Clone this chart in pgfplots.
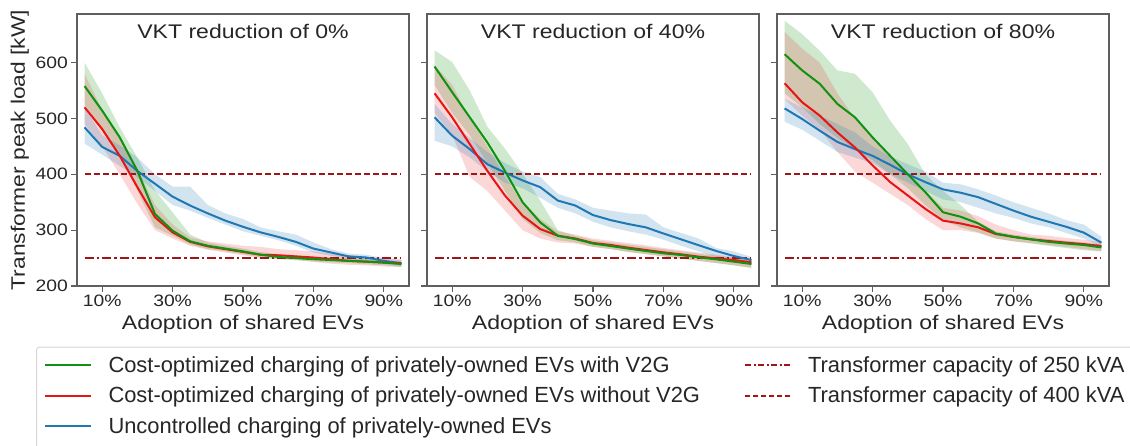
\documentclass[border=0pt]{standalone}
\usepackage{fontspec}
\setmainfont{Liberation Sans}[FakeStretch=1.17]
\newfontfamily\legfont{Liberation Sans}
\usepackage{pgfplots}
\usepackage{pgfplotstable}
\pgfplotsset{compat=1.18}
\usepgfplotslibrary{fillbetween}

\definecolor{cgreen}{RGB}{16,146,16}
\definecolor{cred}{RGB}{232,20,20}
\definecolor{cblue}{RGB}{31,119,180}
\definecolor{capcol}{RGB}{160,22,22}
\definecolor{axgray}{RGB}{95,95,95}
\definecolor{txtgray}{RGB}{38,38,38}
\definecolor{leggray}{RGB}{215,215,215}

\pgfplotstableread{
x  g     gl   gu   r     rl   ru   b     bl   bu
5  558   525  600  520   490  580  484   455  520
10 514   480  545  481   450  515  449   435  470
15 466   436  484  433   400  470  433   415  452
20 406   371  430  377   347  410  406   395  430
25 329   305  371  323   300  345  383   370  400
30 299   290  332  296   285  310  360   345  378
35 280   274  292  279   272  287  344   335  378
40 272   266  278  271   265  280  330   322  345
45 267   262  272  266   260  276  317   310  330
50 262   257  267  261   255  272  306   298  320
55 256   251  261  256   250  270  296   290  305
60 252   248  257  255   249  266  288   282  298
65 250   246  255  253   247  264  279   272  292
70 248   244  252  251   243  262  267   260  278
75 246.5 242  251  248   240  258  260   254  266
80 245   241  250  245   238  255  253   248  258
85 243.6 239  248  243.6 237  252  251   245  256
90 242   237  246  242   235  250  245   240  250
95 239.4 234  244  240.6 234  248  240.6 236  246
}\tabA

\pgfplotstableread{
x  g     gl   gu   r     rl   ru   b     bl   bu
5  593   560  622  545   510  595  502   460  526
10 547   510  601  502   470  560  469   450  490
15 502   470  550  454   395  500  445   430  465
20 457   420  485  406   370  450  418   405  440
25 406   370  446  362   335  395  403   385  420
30 350   320  401  326   300  350  389   375  405
35 314   295  353  302   285  320  377   358  395
40 290   282  300  290   278  298  353   340  365
45 284   278  290  285   276  292  344   330  355
50 276   270  282  277   270  285  327   315  340
55 271.6 266  278  273.4 266  281  318   305  335
60 267   261  274  268.6 261  277  311   298  330
65 262.7 257  270  264.5 257  273  305   292  328
70 258.5 253  266  260.3 253  268  294   283  305
75 255.5 249  262  256.7 249  264  283.5 272  295
80 251.3 245  258  252.5 245  260  273   262  285
85 247.7 241  254  249.5 241  256  262.7 252  268
90 243.6 237  250  246.5 237  252  253.7 246  262
95 239.4 232  246  242.4 233  248  246.5 242  252
}\tabB

\pgfplotstableread{
x  g     gl   gu   r     rl   ru   b     bl   bu
5  615   545  675  563   535  655  518   494  535
10 586   520  651  529   505  625  499   480  520
15 562   490  621  505   480  600  478   460  505
20 526   465  586  475   440  545  458   440  490
25 502   445  580  448   405  500  445   430  475
30 466   425  547  416   385  465  433   420  450
35 433   400  496  386   365  430  417   400  432
40 400   375  454  362   345  400  400   385  418
45 368   345  400  338   320  370  386   370  405
50 332   318  370  317   300  340  373   355  385
55 324   305  345  312   300  335  367   350  382
60 312   296  315  305   295  325  359   340  373
65 294   285  298  293   285  310  347   330  362
70 288   280  292  288   280  300  335   322  350
75 283.5 276  288  283.5 277  292  324   312  340
80 279   272  284  280.6 273  290  315   305  330
85 276   268  281  277.6 270  286  306   295  318
90 273.4 264  278  275   266  283  295.5 285  310
95 269   262  274  271.6 262  278  277.6 270  288
}\tabC

\pgfplotsset{
  panel/.style={
    scale only axis, width=332pt, height=272pt,
    xmin=2.85, xmax=97.15, ymin=200, ymax=687,
    xtick={10,30,50,70,90},
    xticklabels={10\%,30\%,50\%,70\%,90\%},
    ytick={200,300,400,500,600},
    tick align=outside, tick pos=left, major tick length=6pt,
    axis line style={draw=axgray, line width=1.2pt},
    every tick/.style={draw=axgray, line width=1.2pt},
    /pgf/number format/assume math mode=true,
    tick label style={font=\fontsize{16.5}{18}\selectfont, text=txtgray},
    xticklabel style={anchor=north, inner sep=0pt, yshift=-3pt},
    yticklabel style={anchor=east, inner sep=0pt, xshift=-3pt},
    xlabel={Adoption of shared EVs},
    xlabel style={font=\fontsize{19.7}{22}\selectfont, text=txtgray, at={(axis description cs:0.5,0)}, anchor=north, inner sep=0pt, yshift=-29pt},
    title style={font=\fontsize{19.7}{22}\selectfont, text=txtgray, at={(axis description cs:0.5,1)}, anchor=north, inner sep=0pt, yshift=-16pt},
  },
}

\newcommand{\drawpanel}[1]{%
  \addplot[draw=none, name path=gu, forget plot] table[x=x,y=gu]{#1};
  \addplot[draw=none, name path=gl, forget plot] table[x=x,y=gl]{#1};
  \addplot[fill=cgreen, fill opacity=0.2, draw=none, forget plot] fill between[of=gu and gl];
  \addplot[draw=none, name path=ru, forget plot] table[x=x,y=ru]{#1};
  \addplot[draw=none, name path=rl, forget plot] table[x=x,y=rl]{#1};
  \addplot[fill=cred, fill opacity=0.17, draw=none, forget plot] fill between[of=ru and rl];
  \addplot[draw=none, name path=bu, forget plot] table[x=x,y=bu]{#1};
  \addplot[draw=none, name path=bl, forget plot] table[x=x,y=bl]{#1};
  \addplot[fill=cblue, fill opacity=0.2, draw=none, forget plot] fill between[of=bu and bl];
  \addplot[line width=2pt, capcol, dash pattern=on 6pt off 3pt, forget plot] coordinates {(5,400) (95,400)};
  \addplot[line width=2pt, capcol, dash pattern=on 9pt off 3pt on 2.5pt off 3pt, forget plot] coordinates {(5,250) (95,250)};
  \addplot[line width=2pt, cblue, forget plot] table[x=x,y=b]{#1};
  \addplot[line width=2pt, cred, forget plot] table[x=x,y=r]{#1};
  \addplot[line width=2pt, cgreen, forget plot] table[x=x,y=g]{#1};
}

\begin{document}
\begin{tikzpicture}

\begin{axis}[panel, at={(77pt,159pt)}, anchor=south west,
  title={VKT reduction of 0\%},
  ylabel={Transformer peak load [kW]},
  ylabel style={font=\fontsize{19.5}{22}\selectfont, text=txtgray, at={(axis description cs:0,0.5)}, anchor=south, inner sep=0pt, yshift=48pt},
  legend columns=2,
  legend cell align=left,
  legend image code/.code={\draw[#1] (0pt,0pt) -- (45pt,0pt);},
  legend style={at={(axis description cs:0,0)}, anchor=north west, xshift=-41pt, yshift=-60.6pt,
    draw=leggray, line width=1pt, rounded corners=3pt, fill=white,
    font=\legfont\fontsize{21.9}{24}\selectfont, text=txtgray,
    inner xsep=8pt, inner ysep=9.5pt,
    nodes={inner sep=0pt},
    /tikz/every odd column/.append style={column sep=17pt},
    /tikz/every even column/.append style={column sep=44pt},
    row sep=13pt},
]
\addlegendimage{line width=2pt, cgreen}
\addlegendentry{Cost-optimized charging of privately-owned EVs with V2G}
\addlegendimage{line width=2pt, capcol, dash pattern=on 6pt off 2.5pt on 2pt off 2.5pt}
\addlegendentry{Transformer capacity of 250 kVA}
\addlegendimage{line width=2pt, cred}
\addlegendentry{Cost-optimized charging of privately-owned EVs without V2G}
\addlegendimage{line width=2pt, capcol, dash pattern=on 5pt off 3pt}
\addlegendentry{Transformer capacity of 400 kVA}
\addlegendimage{line width=2pt, cblue}
\addlegendentry{Uncontrolled charging of privately-owned EVs}
\addlegendimage{empty legend}
\addlegendentry{}
\addlegendimage{empty legend}
\addlegendentry{}
\drawpanel{\tabA}
\end{axis}

\begin{axis}[panel, at={(427pt,159pt)}, anchor=south west,
  title={VKT reduction of 40\%}, yticklabels={}]
\drawpanel{\tabB}
\end{axis}

\begin{axis}[panel, at={(777pt,159pt)}, anchor=south west,
  title={VKT reduction of 80\%}, yticklabels={}]
\drawpanel{\tabC}
\end{axis}

\pgfresetboundingbox
\path (0,0) rectangle (1130pt,445pt);
\end{tikzpicture}
\end{document}
